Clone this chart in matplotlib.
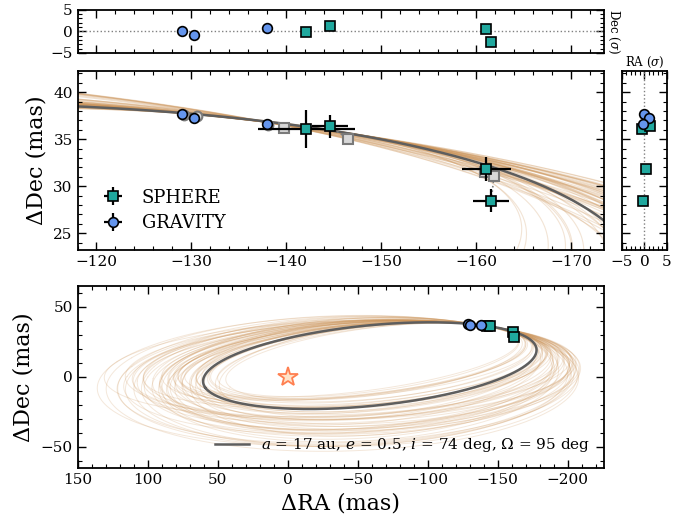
import matplotlib

matplotlib.use("Agg")
import matplotlib.pyplot as plt
import numpy as np
from matplotlib.ticker import MultipleLocator

plt.rcParams["font.family"] = "DejaVu Serif"
plt.rcParams["mathtext.fontset"] = "dejavuserif"

# --- astrometry (mas) ---
sphere_ra = [-142.1, -144.6, -161.1, -161.6]
sphere_dec = [36.05, 36.35, 31.8, 28.45]
sphere_ra_err = [5.1, 1.9, 2.6, 1.9]
sphere_dec_err = [2.0, 1.2, 1.3, 1.2]

gravity_ra = [-129.0, -130.3, -138.0]
gravity_dec = [37.65, 37.25, 36.6]
gravity_ra_err = [0.1, 0.1, 0.1]
gravity_dec_err = [0.1, 0.1, 0.1]

# best-fit model positions at the epochs
sphere_mod_ra = [-139.8, -146.5, -160.9, -161.9]
sphere_mod_dec = [36.15, 35.0, 31.45, 31.1]
gravity_mod_ra = [-129.2, -130.6, -138.1]
gravity_mod_dec = [37.6, 37.5, 36.5]

# residuals in sigma
sphere_res_ra = [-0.5, 1.3, 0.3, -0.3]
sphere_res_dec = [-0.2, 1.2, 0.55, -2.5]
gravity_res_ra = [-0.1, 0.9, -0.4]
gravity_res_dec = [0.0, -0.8, 0.7]

# best-fit orbit elements
best_a_au = 17.0
best_e = 0.5
best_inc = 74.0
best_Om = 95.0
best_om = 9.5
parallax = 7.06

# sample orbits: a (mas), e, i (deg); omega and Omega follow from two anchor points on the fit
anchor_ra = [-130.0, -146.5]
a_samp = [108, 112, 115, 118, 120, 122, 124, 126, 128, 130,
          132, 134, 136, 138, 140, 142, 144, 146, 148, 150,
          152, 154, 156, 158, 160, 162, 164, 166, 168, 170,
          125, 131, 137, 143, 149, 155, 161, 127, 133, 139,
          145, 151, 157, 119, 141, 135, 147, 153, 129, 163,
          114, 123, 132, 141, 150, 159, 168, 117, 126, 135,
          144, 153, 162, 171, 121, 130, 139, 148, 157, 166]
e_samp = [0.60, 0.58, 0.55, 0.53, 0.50, 0.50, 0.47, 0.48, 0.45, 0.46,
          0.43, 0.44, 0.41, 0.42, 0.39, 0.40, 0.37, 0.38, 0.35, 0.36,
          0.33, 0.34, 0.31, 0.32, 0.29, 0.30, 0.27, 0.28, 0.25, 0.26,
          0.52, 0.44, 0.45, 0.36, 0.39, 0.30, 0.33, 0.46, 0.47, 0.38,
          0.41, 0.32, 0.35, 0.55, 0.43, 0.40, 0.34, 0.37, 0.49, 0.27,
          0.57, 0.49, 0.42, 0.37, 0.33, 0.29, 0.24, 0.56, 0.50, 0.43,
          0.38, 0.31, 0.28, 0.22, 0.51, 0.47, 0.40, 0.33, 0.30, 0.25]
inc_samp = [74, 76, 72, 75, 73, 77, 71, 74, 78, 73,
            74, 76, 72, 75, 73, 77, 71, 74, 78, 73,
            74, 76, 72, 75, 73, 77, 71, 74, 78, 73,
            74, 76, 72, 75, 73, 77, 71, 74, 78, 73,
            74, 76, 72, 75, 73, 77, 71, 74, 78, 73,
            70, 72, 69, 71, 70, 72, 69, 76, 75, 77,
            70, 71, 75, 74, 78, 69, 72, 70, 76, 71]

teal = "#20A89E"
blue = "#6495ED"
tan = "#CD955A"
grey_line = "#5E5E5E"


def basis(inc, Om, om):
    ci = np.cos(inc)
    A = np.cos(om) * np.cos(Om) - np.sin(om) * np.sin(Om) * ci
    B = np.cos(om) * np.sin(Om) + np.sin(om) * np.cos(Om) * ci
    F = -np.sin(om) * np.cos(Om) - np.cos(om) * np.sin(Om) * ci
    G = -np.sin(om) * np.sin(Om) + np.cos(om) * np.cos(Om) * ci
    return A, B, F, G


def a_through(ra, dec, e, inc, Om, om):
    # semi-major axis of the focus-centred ellipse through (ra, dec)
    A, B, F, G = basis(inc, Om, om)
    det = B * F - G * A
    X = (ra * F - G * dec) / det
    Y = (B * dec - A * ra) / det
    return (np.hypot(X, Y) + e * X) / (1 - e ** 2)


def ellipse(a, e, inc, Om, om, n=600):
    A, B, F, G = basis(inc, Om, om)
    E = np.linspace(0, 2 * np.pi, n)
    X = a * (np.cos(E) - e)
    Y = a * np.sqrt(1 - e ** 2) * np.sin(E)
    return B * X + G * Y, A * X + F * Y


best = ellipse(best_a_au * parallax, best_e, np.radians(best_inc),
               np.radians(best_Om), np.radians(best_om))
upper = (best[1] > 15) & (best[0] < -100)
order = np.argsort(best[0][upper])
anchor_dec = np.interp(anchor_ra, best[0][upper][order], best[1][upper][order])

om_deg, Om_deg = np.meshgrid(np.arange(-60, 80.001, 0.25), np.arange(80, 110.001, 0.1))
om_g, Om_g = np.radians(om_deg), np.radians(Om_deg)


def sample_orbit(a, e, inc_d):
    inc = np.radians(inc_d)
    a1 = a_through(anchor_ra[0], anchor_dec[0], e, inc, Om_g, om_g)
    a2 = a_through(anchor_ra[1], anchor_dec[1], e, inc, Om_g, om_g)
    cost = (a1 - a) ** 2 + (a2 - a) ** 2
    cost = cost + 5e-4 * ((om_deg - best_om) ** 2 + (Om_deg - best_Om) ** 2)
    k = np.unravel_index(np.argmin(cost), cost.shape)
    if (a1[k] - a) ** 2 + (a2[k] - a) ** 2 > 4.0:
        return None
    ra, dec = ellipse(a, e, inc, Om_g[k], om_g[k])
    # keep only orbits that still run past the later SPHERE epochs
    mid = (ra < -148) & (ra > -153)
    late = (ra < -158) & (ra > -164)
    if not mid.any() or dec[mid].max() < 32:
        return None
    if not late.any() or dec[late].max() < 27:
        return None
    # and that do not cross the zoom window steeply below the data
    steep = (ra < -141) & (ra > -147) & (dec < 33) & (dec > 20)
    if steep.any():
        return None
    return ra, dec


samples = [sample_orbit(a, e, i) for a, e, i in zip(a_samp, e_samp, inc_samp)]
samples = [s for s in samples if s is not None]

fig = plt.figure(figsize=(6.92, 5.22), dpi=100)
ax_top = fig.add_axes([0.112, 0.8985, 0.761, 0.0833])
ax_main = fig.add_axes([0.112, 0.521, 0.761, 0.3439])
ax_side = fig.add_axes([0.8988, 0.521, 0.065, 0.3439])
ax_orb = fig.add_axes([0.112, 0.104, 0.761, 0.3487])

for ax in (ax_top, ax_main, ax_side, ax_orb):
    ax.tick_params(which="both", direction="in", top=True, right=True, labelsize=11)
    ax.tick_params(which="major", length=5.5, width=1.0)
    ax.tick_params(which="minor", length=3, width=0.8)
    for sp in ax.spines.values():
        sp.set_linewidth(1.3)

mk = dict(ms=7, mec="k", mew=1.2, ls="none")

# --- main zoomed panel ---
for ra, dec in samples:
    ax_main.plot(ra, dec, color=tan, lw=0.8, alpha=0.25, zorder=1)
ax_main.plot(best[0], best[1], color=grey_line, lw=1.8, zorder=2)
for x0, y0, x1, y1 in zip(sphere_ra + gravity_ra, sphere_dec + gravity_dec,
                          sphere_mod_ra + gravity_mod_ra, sphere_mod_dec + gravity_mod_dec):
    ax_main.plot([x0, x1], [y0, y1], color="grey", ls=":", lw=1.2, zorder=3)
ax_main.plot(sphere_mod_ra, sphere_mod_dec, "s", ms=7, mfc="#d8d8d8", mec="#7a7a7a", mew=1.5, zorder=3)
ax_main.plot(gravity_mod_ra, gravity_mod_dec, "o", ms=7, mfc="#d8d8d8", mec="#7a7a7a", mew=1.5, zorder=3)
ax_main.errorbar(sphere_ra, sphere_dec, xerr=sphere_ra_err, yerr=sphere_dec_err, fmt="s",
                 mfc=teal, ecolor="k", elinewidth=1.6, capsize=0, label="SPHERE", zorder=5, **mk)
ax_main.errorbar(gravity_ra, gravity_dec, xerr=gravity_ra_err, yerr=gravity_dec_err, fmt="o",
                 mfc=blue, ecolor="k", elinewidth=1.6, capsize=0, label="GRAVITY", zorder=5, **mk)
ax_main.set_xlim(-118.0, -173.5)
ax_main.set_ylim(23.2, 42.3)
ax_main.xaxis.set_major_locator(MultipleLocator(10))
ax_main.xaxis.set_minor_locator(MultipleLocator(2))
ax_main.yaxis.set_major_locator(MultipleLocator(5))
ax_main.yaxis.set_minor_locator(MultipleLocator(1))
ax_main.set_ylabel("ΔDec (mas)", fontsize=16)
ax_main.legend(loc="lower left", bbox_to_anchor=(0.012, 0.0), frameon=False, fontsize=13,
               handlelength=1.2, handletextpad=1.0, borderaxespad=0.6, labelspacing=0.4)

# --- Dec residuals on top ---
ax_top.axhline(0, color="grey", ls=":", lw=1)
ax_top.plot(sphere_ra, sphere_res_dec, "s", mfc=teal, **mk)
ax_top.plot(gravity_ra, gravity_res_dec, "o", mfc=blue, **mk)
ax_top.set_xlim(ax_main.get_xlim())
ax_top.set_ylim(-5, 5)
ax_top.xaxis.set_major_locator(MultipleLocator(10))
ax_top.xaxis.set_minor_locator(MultipleLocator(2))
ax_top.yaxis.set_major_locator(MultipleLocator(5))
ax_top.yaxis.set_minor_locator(MultipleLocator(1))
ax_top.tick_params(labelbottom=False)
ax_top.yaxis.set_label_position("right")
ax_top.set_ylabel(r"Dec ($\sigma$)", fontsize=8.5, rotation=270, labelpad=12)

# --- RA residuals on the side ---
ax_side.axvline(0, color="grey", ls=":", lw=1)
ax_side.plot(sphere_res_ra, sphere_dec, "s", mfc=teal, **mk)
ax_side.plot(gravity_res_ra, gravity_dec, "o", mfc=blue, **mk)
ax_side.set_xlim(-5, 5)
ax_side.set_ylim(ax_main.get_ylim())
ax_side.xaxis.set_major_locator(MultipleLocator(5))
ax_side.xaxis.set_minor_locator(MultipleLocator(1))
ax_side.yaxis.set_major_locator(MultipleLocator(5))
ax_side.yaxis.set_minor_locator(MultipleLocator(1))
ax_side.tick_params(labelleft=False)
ax_side.xaxis.set_label_position("top")
ax_side.set_xlabel(r"RA ($\sigma$)", fontsize=8.5, labelpad=3)

# --- full orbit ---
for ra, dec in samples:
    ax_orb.plot(ra, dec, color=tan, lw=0.7, alpha=0.22, zorder=1)
ax_orb.plot(best[0], best[1], color=grey_line, lw=1.8, zorder=2,
            label=r"$a$ = 17 au, $e$ = 0.5, $i$ = 74 deg, $\Omega$ = 95 deg")
ax_orb.plot([0], [0], "*", ms=15, mfc="#FFE3C8", mec="#FF7F50", mew=1.3, zorder=4)
ax_orb.plot(sphere_ra, sphere_dec, "s", mfc=teal, zorder=5, **mk)
ax_orb.plot(gravity_ra, gravity_dec, "o", mfc=blue, zorder=5, **mk)
ax_orb.set_xlim(150, -226)
ax_orb.set_ylim(-65, 65)
ax_orb.xaxis.set_major_locator(MultipleLocator(50))
ax_orb.xaxis.set_minor_locator(MultipleLocator(10))
ax_orb.yaxis.set_major_locator(MultipleLocator(50))
ax_orb.yaxis.set_minor_locator(MultipleLocator(10))
ax_orb.set_xlabel("ΔRA (mas)", fontsize=16)
ax_orb.set_ylabel("ΔDec (mas)", fontsize=16)
ax_orb.legend(loc="lower right", frameon=False, fontsize=11, handlelength=2.2)

fig.savefig("out.png", dpi=100)
